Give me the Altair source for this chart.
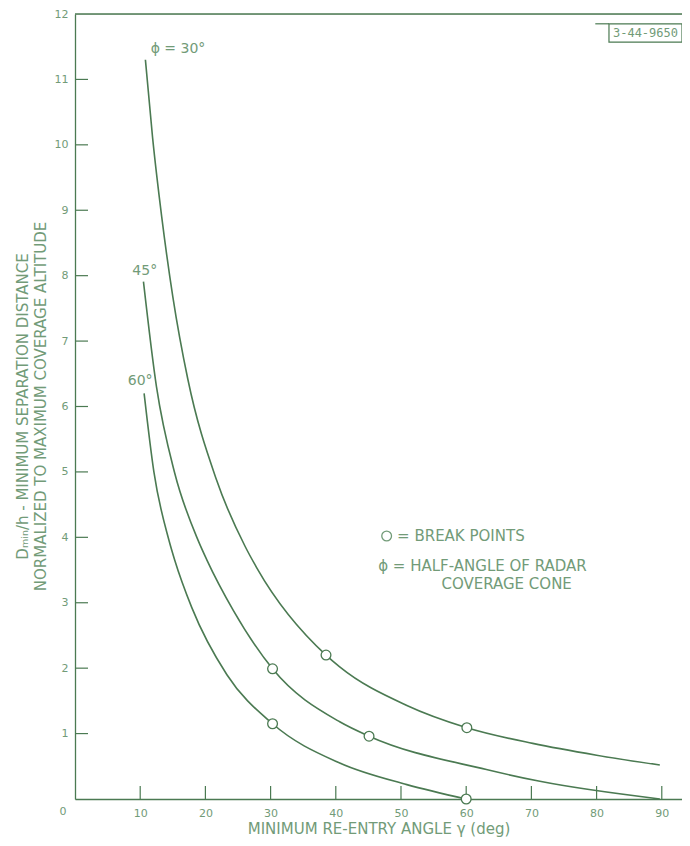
import altair as alt
import pandas as pd

# ---- data ----
gamma_30 = [10.8, 11.9, 13.3, 15.0, 17.3, 21.7, 26.1, 27.9, 38.5, 40.6, 50.9, 60.1, 70.2, 80.0, 89.7]
dist_30 = [11.30, 10.11, 8.90, 7.68, 6.42, 4.88, 3.86, 3.53, 2.20, 2.02, 1.43, 1.09, 0.85, 0.67, 0.52]

gamma_45 = [10.5, 12.5, 15.3, 18.9, 20.2, 24.3, 30.3, 40.6, 45.1, 63.1, 71.3, 89.7]
dist_45 = [7.91, 6.30, 4.98, 3.95, 3.66, 2.88, 1.99, 1.18, 0.96, 0.45, 0.27, 0.0]

gamma_60 = [10.6, 12.1, 14.4, 15.3, 17.9, 23.3, 30.3, 40.6, 50.9, 60.0]
dist_60 = [6.20, 5.00, 3.96, 3.65, 2.93, 1.90, 1.15, 0.55, 0.22, 0.0]

break_phi = ["30", "30", "45", "45", "60", "60"]
break_gamma = [38.5, 60.1, 30.3, 45.1, 30.3, 60.0]
break_dist = [2.20, 1.09, 1.99, 0.96, 1.15, 0.0]

curve_labels = ["ϕ = 30°", "45°", "60°"]
curve_label_gamma = [15.8, 10.7, 10.0]
curve_label_dist = [11.46, 8.07, 6.39]

x_ticks = [10, 20, 30, 40, 50, 60, 70, 80, 90]
y_ticks = [1, 2, 3, 4, 5, 6, 7, 8, 9, 10, 11, 12]
y_inner_ticks = [1, 2, 3, 4, 5, 6, 7, 8, 9, 10, 11]

x_title = "MINIMUM RE-ENTRY ANGLE γ (deg)"
y_title = ["Dₘᵢₙ/h - MINIMUM SEPARATION DISTANCE",
           "NORMALIZED TO MAXIMUM COVERAGE ALTITUDE"]
legend_lines = ["= BREAK POINTS", "ϕ = HALF-ANGLE OF RADAR", "COVERAGE CONE"]
legend_gamma = [49.4, 46.5, 56.2]
legend_dist = [4.02, 3.56, 3.28]
stamp = "3-44-9650"

# ---- build tables ----
curves = pd.concat([
    pd.DataFrame({"phi": "30", "gamma": gamma_30, "dist": dist_30}),
    pd.DataFrame({"phi": "45", "gamma": gamma_45, "dist": dist_45}),
    pd.DataFrame({"phi": "60", "gamma": gamma_60, "dist": dist_60}),
], ignore_index=True)
breaks = pd.DataFrame({"phi": break_phi, "gamma": break_gamma, "dist": break_dist})
labels_df = pd.DataFrame({"label": curve_labels, "gamma": curve_label_gamma, "dist": curve_label_dist})
legend_df = pd.DataFrame({"label": legend_lines, "gamma": legend_gamma, "dist": legend_dist})
legend_pt = pd.DataFrame({"gamma": [47.8], "dist": [4.02]})
xt_df = pd.DataFrame({"gamma": x_ticks})
yt_df = pd.DataFrame({"dist": y_inner_ticks})
top_df = pd.DataFrame({"dist": [12]})
box_df = pd.DataFrame({"gamma": [81.9], "gamma2": [93.1], "dist": [11.85], "dist2": [11.57]})
box_lead = pd.DataFrame({"gamma": [79.8], "gamma2": [81.9], "dist": [11.85]})
stamp_df = pd.DataFrame({"label": [stamp], "gamma": [87.5], "dist": [11.71]})
zero_df = pd.DataFrame({"label": ["0"], "gamma": [0], "dist": [0]})

LINE = "#4b7a52"
TEXT = "#729b78"
FONT = "DejaVu Sans"

x_scale = alt.Scale(domain=[0, 93.1], nice=False, zero=False)
y_scale = alt.Scale(domain=[0, 12], nice=False)

x_axis = alt.Axis(values=x_ticks, tickSize=0, grid=False, domainColor=LINE, domainWidth=1.3,
                  labelColor=TEXT, labelFont=FONT, labelFontSize=11, labelPadding=8,
                  titleColor=TEXT, titleFont=FONT, titleFontSize=15, titleFontWeight="normal",
                  titlePadding=3)
y_axis = alt.Axis(values=y_ticks, tickSize=0, grid=False, domainColor=LINE, domainWidth=1.3,
                  labelColor=TEXT, labelFont=FONT, labelFontSize=11, labelPadding=7,
                  titleColor=TEXT, titleFont=FONT, titleFontSize=15, titleFontWeight="normal",
                  titleLineHeight=18, titleAngle=-90, titleX=-53, titleY=392,
                  titleAlign="center", titleBaseline="middle")

X = alt.X("gamma:Q", scale=x_scale, axis=x_axis, title=x_title)
Y = alt.Y("dist:Q", scale=y_scale, axis=y_axis, title=y_title)

lines = alt.Chart(curves).mark_line(interpolate="monotone", color=LINE, strokeWidth=1.6).encode(
    x=X, y=Y, detail="phi:N")

points = alt.Chart(breaks).mark_point(shape="circle", filled=True, fill="white", stroke=LINE,
                                      strokeWidth=1.3, size=95, opacity=1).encode(x=X, y=Y)

curve_text = alt.Chart(labels_df).mark_text(font=FONT, fontSize=14, color=TEXT, align="center",
                                            baseline="middle").encode(x=X, y=Y, text="label:N")

legend_text = alt.Chart(legend_df).mark_text(font=FONT, fontSize=15, color=TEXT, align="left",
                                             baseline="middle").encode(x=X, y=Y, text="label:N")
legend_circle = alt.Chart(legend_pt).mark_point(shape="circle", filled=True, fill="white", stroke=TEXT,
                                                strokeWidth=1.3, size=95, opacity=1).encode(x=X, y=Y)

xticks = alt.Chart(xt_df).mark_rule(color=LINE, strokeWidth=1.2).encode(
    x=X, y=alt.value(785), y2=alt.value(772))
yticks = alt.Chart(yt_df).mark_rule(color=LINE, strokeWidth=1.2).encode(
    y=Y, x=alt.value(0), x2=alt.value(13))
top_rule = alt.Chart(top_df).mark_rule(color=LINE, strokeWidth=1.3).encode(y=Y)

box = alt.Chart(box_df).mark_rect(fill="white", stroke=LINE, strokeWidth=1.2).encode(
    x=X, x2="gamma2:Q", y=Y, y2="dist2:Q")
lead = alt.Chart(box_lead).mark_rule(color=LINE, strokeWidth=1.2).encode(x=X, x2="gamma2:Q", y=Y)
stamp_text = alt.Chart(stamp_df).mark_text(font="DejaVu Sans Mono", fontSize=12, color=TEXT,
                                           align="center", baseline="middle").encode(x=X, y=Y, text="label:N")
zero_text = alt.Chart(zero_df).mark_text(font=FONT, fontSize=11, color=TEXT, align="center",
                                         baseline="middle", dx=-12, dy=13).encode(x=X, y=Y, text="label:N")

chart = alt.layer(
    top_rule, xticks, yticks, lines, points, curve_text, legend_text, legend_circle,
    lead, box, stamp_text, zero_text
).properties(
    width=607, height=785,
    autosize=alt.AutoSizeParams(type="none"),
    padding={"left": 67, "top": 6, "right": 0, "bottom": 38},
).configure_view(stroke=None).configure(background="white")

chart.save("out.html", embed_options={"renderer": "svg", "actions": False})
